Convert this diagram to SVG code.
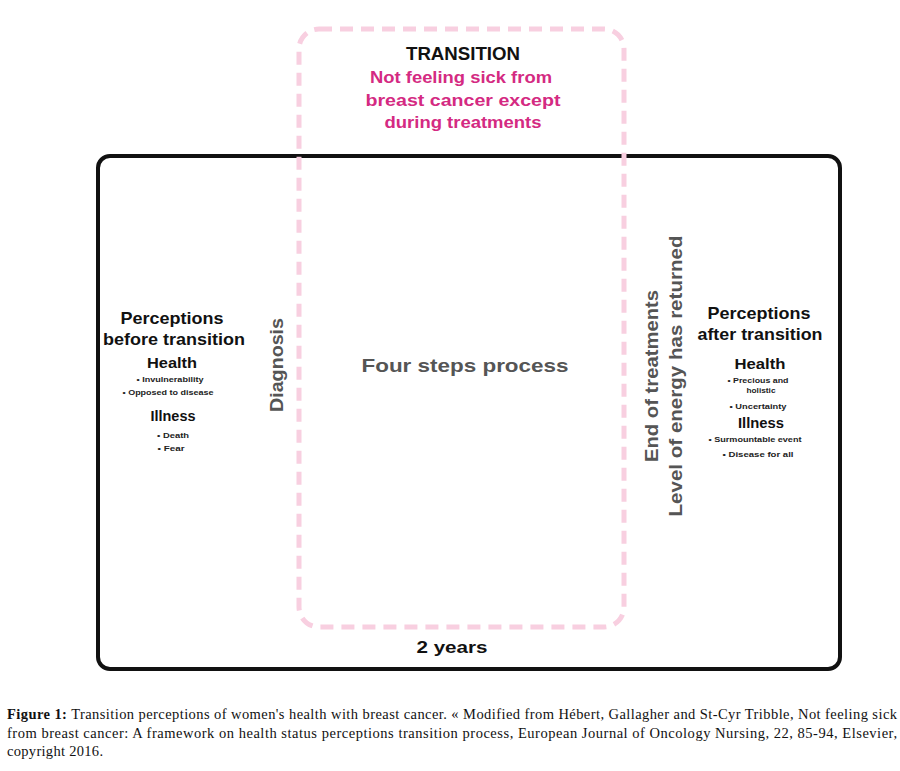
<svg xmlns="http://www.w3.org/2000/svg" width="900" height="771" viewBox="0 0 900 771">
<style>
.s{font-family:"Liberation Sans",Arial,sans-serif;text-anchor:middle;font-weight:bold}
.h{font-size:17px;fill:#111}
.sub{font-size:15px;fill:#111}
.b{font-size:7.5px;fill:#222}
.g{fill:#555;font-size:19px}
.p{fill:#d42a82;font-size:17px}
.cap{font-family:"Liberation Serif","Times New Roman",serif;font-size:14.5px;fill:#111}
</style>
<rect width="900" height="771" fill="#fff"/>
<g id="frame">
<rect x="98" y="156" width="742" height="513" rx="12" fill="none" stroke="#111" stroke-width="4"/>
</g>
<g id="transition">
<rect x="299" y="29" width="325" height="598" rx="20" fill="none" stroke="#f8cfe0" stroke-width="5" stroke-dasharray="13 8"/>
<text class="s" x="463" y="60" font-size="19" fill="#111" textLength="114" lengthAdjust="spacingAndGlyphs">TRANSITION</text>
<text class="s p" x="461" y="83" textLength="182" lengthAdjust="spacingAndGlyphs">Not feeling sick from</text>
<text class="s p" x="463" y="106" textLength="195" lengthAdjust="spacingAndGlyphs">breast cancer except</text>
<text class="s p" x="463" y="128" textLength="157" lengthAdjust="spacingAndGlyphs">during treatments</text>
</g>
<g id="before">
<text class="s h" x="172" y="324" textLength="103" lengthAdjust="spacingAndGlyphs">Perceptions</text>
<text class="s h" x="174" y="345" textLength="142" lengthAdjust="spacingAndGlyphs">before transition</text>
<text class="s sub" x="172" y="368" textLength="50" lengthAdjust="spacingAndGlyphs">Health</text>
<text class="s b" x="170" y="382" textLength="67" lengthAdjust="spacingAndGlyphs">• Invulnerability</text>
<text class="s b" x="168" y="395" textLength="91" lengthAdjust="spacingAndGlyphs">• Opposed to disease</text>
<text class="s sub" x="173" y="421" textLength="45" lengthAdjust="spacingAndGlyphs">Illness</text>
<text class="s b" x="173" y="438" textLength="32" lengthAdjust="spacingAndGlyphs">• Death</text>
<text class="s b" x="171" y="451" textLength="27" lengthAdjust="spacingAndGlyphs">• Fear</text>
</g>
<g id="diagnosis">
<text class="s g" transform="translate(283,365) rotate(-90)" textLength="94" lengthAdjust="spacingAndGlyphs">Diagnosis</text>
</g>
<g id="steps">
<text class="s g" x="465" y="372" textLength="207" lengthAdjust="spacingAndGlyphs">Four steps process</text>
</g>
<g id="end">
<text class="s g" transform="translate(658,376) rotate(-90)" textLength="172" lengthAdjust="spacingAndGlyphs">End of treatments</text>
<text class="s g" transform="translate(682,376) rotate(-90)" textLength="281" lengthAdjust="spacingAndGlyphs">Level of energy has returned</text>
</g>
<g id="after">
<text class="s h" x="759" y="319" textLength="103" lengthAdjust="spacingAndGlyphs">Perceptions</text>
<text class="s h" x="760" y="340" textLength="125" lengthAdjust="spacingAndGlyphs">after transition</text>
<text class="s sub" x="760" y="369" textLength="51" lengthAdjust="spacingAndGlyphs">Health</text>
<text class="s b" x="758" y="383" textLength="61" lengthAdjust="spacingAndGlyphs">• Precious and</text>
<text class="s b" x="761" y="393" textLength="29" lengthAdjust="spacingAndGlyphs">holistic</text>
<text class="s b" x="758" y="409" textLength="57" lengthAdjust="spacingAndGlyphs">• Uncertainty</text>
<text class="s sub" x="761" y="428" textLength="46" lengthAdjust="spacingAndGlyphs">Illness</text>
<text class="s b" x="755" y="442" textLength="93" lengthAdjust="spacingAndGlyphs">• Surmountable event</text>
<text class="s b" x="758" y="457" textLength="71" lengthAdjust="spacingAndGlyphs">• Disease for all</text>
</g>
<g id="years">
<text class="s h" x="452" y="653" textLength="71" lengthAdjust="spacingAndGlyphs">2 years</text>
</g>
<g id="caption">
<text class="cap" x="7" y="719" textLength="890"><tspan font-weight="bold">Figure 1:</tspan> Transition perceptions of women's health with breast cancer. « Modified from Hébert, Gallagher and St-Cyr Tribble, Not feeling sick</text>
<text class="cap" x="7" y="738" textLength="890">from breast cancer: A framework on health status perceptions transition process, European Journal of Oncology Nursing, 22, 85-94, Elsevier,</text>
<text class="cap" x="7" y="756" textLength="96">copyright 2016.</text>
</g>
</svg>
